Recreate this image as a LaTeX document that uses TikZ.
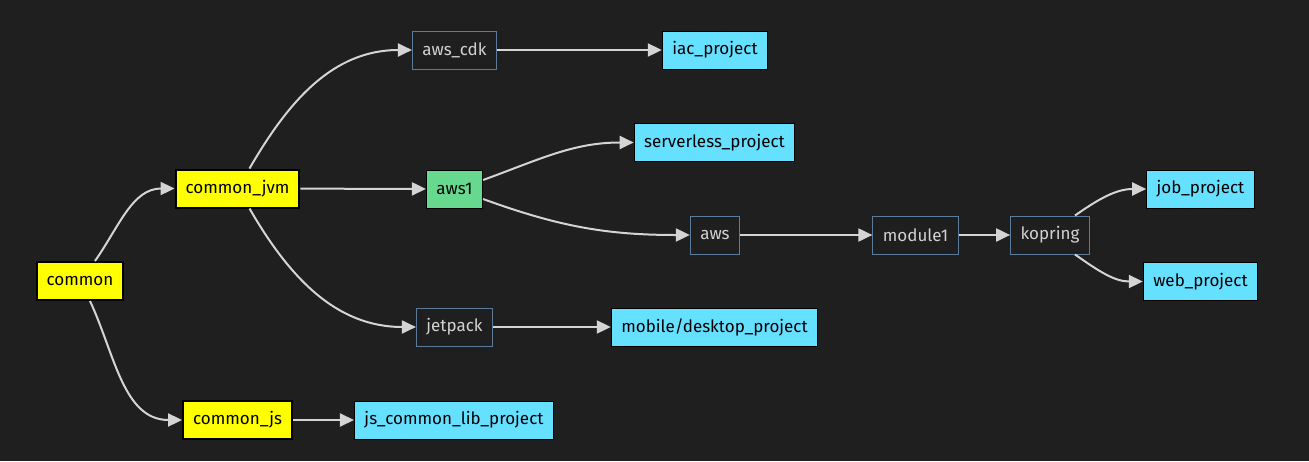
\documentclass[tikz,border=0pt]{standalone}
\usepackage{fontspec}
\setmainfont{Fira Sans}
\usetikzlibrary{arrows.meta,shapes}

\definecolor{bgdark}{HTML}{1F1F1F}
\definecolor{yellowbox}{HTML}{FFFF00}
\definecolor{cyanbox}{HTML}{66E0FF}
\definecolor{greenbox}{HTML}{66D98F}
\definecolor{modedge}{HTML}{5B7B9B}
\definecolor{modtext}{HTML}{D2D2D2}
\definecolor{linkgray}{HTML}{D4D4D4}

\tikzset{
  box/.style={rectangle, minimum height=38pt, inner xsep=10pt, inner ysep=0pt, font=\fontsize{17}{19}\selectfont},
  corebox/.style={box, fill=yellowbox, draw=black, line width=2pt, text=black},
  projbox/.style={box, fill=cyanbox, draw=black, line width=1pt, text=black},
  awsbox/.style={box, fill=greenbox, draw=black, line width=1pt, text=black},
  modbox/.style={box, fill=bgdark, draw=modedge, line width=1pt, text=modtext},
  link/.style={draw=linkgray, line width=2pt, -{Triangle[length=14pt,width=13pt]}},
}

\begin{document}
\begin{tikzpicture}[x=1pt, y=-1pt]
        \fill[bgdark] (0,0) rectangle (1309,461);
        \useasboundingbox (0,0) rectangle (1309,461);
        % Draw the common modules
        \node[corebox] (common) at (80,281) {common};
        \node[corebox] (commonjvm) at (237.5,188.5) {common\_jvm};
        \node[corebox] (commonjs) at (237.5,420) {common\_js};
        % Draw the library modules
        \node[modbox] (awscdk) at (454.5,50) {aws\_cdk};
        \node[awsbox] (awsone) at (454.5,189) {aws1};
        \node[modbox] (jetpack) at (454.5,327) {jetpack};
        \node[modbox] (aws) at (715,235) {aws};
        \node[modbox] (moduleone) at (915.5,235) {module1};
        \node[modbox] (kopring) at (1050,235) {kopring};
        % Draw the projects
        \node[projbox] (iac) at (715,50) {iac\_project};
        \node[projbox] (serverless) at (714.5,142.5) {serverless\_project};
        \node[projbox] (mobile) at (714.5,327) {mobile/desktop\_project};
        \node[projbox] (jslib) at (454,420) {js\_common\_lib\_project};
        \node[projbox] (job) at (1200.5,189) {job\_project};
        \node[projbox] (web) at (1200.5,281.5) {web\_project};
        % Draw the curved links
        \draw[link] ([xshift=15pt]common.north) to[out=55, in=180] (commonjvm.west);
        \draw[link] ([xshift=10pt]common.south) to[out=-65, in=180] (commonjs.west);
        \draw[link] ([xshift=12pt]commonjvm.north) to[out=60, in=180] (awscdk.west);
        \draw[link] ([xshift=12pt]commonjvm.south) to[out=-60, in=180] (jetpack.west);
        \draw[link] ([yshift=9pt]awsone.east) to[out=20, in=180] (serverless.west);
        \draw[link] ([yshift=-10pt]awsone.east) to[out=-20, in=180] (aws.west);
        \draw[link] ([xshift=25pt]kopring.north) to[out=35, in=180] (job.west);
        \draw[link] ([xshift=25pt]kopring.south) to[out=-35, in=180] (web.west);
        % Draw the straight links
        \foreach \a/\b in {commonjvm/awsone, commonjs/jslib, awscdk/iac, jetpack/mobile, aws/moduleone, moduleone/kopring}
        \draw[link] (\a) -- (\b);
\end{tikzpicture}
\end{document}
